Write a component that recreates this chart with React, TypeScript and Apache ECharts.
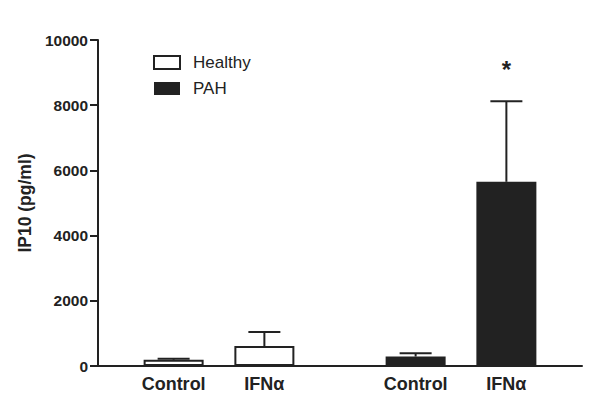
import React, { useEffect, useRef } from "react";
import * as echarts from "echarts";

const groups = ["Healthy", "PAH"];
const conditions = ["Control", "IFNα", "Control", "IFNα"];
const barGroup = [0, 0, 1, 1];
const means = [190, 610, 290, 5650];
const errors = [30, 430, 100, 2470];
const significance = ["", "", "", "*"];
const yTicks = [0, 2000, 4000, 6000, 8000, 10000];

const SLOT_COUNT = 16;
const barSlots = [2, 5, 10, 13];
const FONT = "'Liberation Sans', Arial, Helvetica, sans-serif";

export default function App() {
  const ref = useRef<HTMLDivElement>(null);
  useEffect(() => {
    if (!ref.current) return;
    const chart = echarts.init(ref.current, null, { renderer: "svg" });
    const catData: string[] = [];
    for (let i = 0; i < SLOT_COUNT; i++) {
      const k = barSlots.indexOf(i);
      catData.push(k >= 0 ? conditions[k] : "");
    }
    const seriesData = groups.map((_, g) => {
      const arr: any[] = new Array(SLOT_COUNT).fill("-");
      barSlots.forEach((s, k) => {
        if (barGroup[k] === g) arr[s] = means[k];
      });
      return arr;
    });
    const errData = barSlots.map((s, k) => [s, means[k], means[k] + errors[k], k]);

    const option: any = {
      animation: false,
      backgroundColor: "#fff",
      grid: { left: 98, right: 19, top: 40, bottom: 35, containLabel: false },
      legend: {
        orient: "vertical",
        left: 153,
        top: 54,
        padding: 0,
        itemWidth: 26,
        itemHeight: 13,
        itemGap: 9,
        icon: "rect",
        textStyle: { fontFamily: FONT, fontSize: 17, color: "#222", padding: [0, 0, 0, 8] },
        data: groups,
      },
      xAxis: {
        type: "category",
        data: catData,
        axisLine: { lineStyle: { color: "#222", width: 2 } },
        axisTick: {
          alignWithLabel: true,
          length: 6,
          lineStyle: { color: "#222", width: 2 },
          interval: (i: number) => barSlots.indexOf(i) >= 0,
        },
        axisLabel: {
          interval: 0,
          fontFamily: FONT,
          fontSize: 18,
          fontWeight: "bold",
          color: "#222",
          margin: 9,
        },
      },
      yAxis: {
        type: "value",
        min: 0,
        max: 10000,
        interval: 2000,
        name: "IP10 (pg/ml)",
        nameLocation: "middle",
        nameGap: 63,
        nameTextStyle: { fontFamily: FONT, fontSize: 17.5, fontWeight: "bold", color: "#222" },
        axisLine: { show: true, lineStyle: { color: "#222", width: 2 } },
        axisTick: { show: true, length: 8, lineStyle: { color: "#222", width: 2 } },
        axisLabel: {
          fontFamily: FONT,
          fontSize: 15.5,
          fontWeight: "bold",
          color: "#222",
          margin: 10,
          formatter: (v: number) => (yTicks.indexOf(v) >= 0 ? String(v) : ""),
        },
        splitLine: { show: false },
      },
      series: [
        {
          name: groups[0],
          type: "bar",
          data: seriesData[0],
          barWidth: 60,
          barGap: "-100%",
          itemStyle: { color: "#fff", borderColor: "#222", borderWidth: 2 },
          z: 2,
        },
        {
          name: groups[1],
          type: "bar",
          data: seriesData[1],
          barWidth: 60,
          barGap: "-100%",
          itemStyle: { color: "#222", borderColor: "#222", borderWidth: 0 },
          z: 2,
        },
        {
          type: "custom",
          data: errData,
          z: 3,
          renderItem: (params: any, api: any) => {
            const x = api.value(0);
            const lo = api.coord([x, api.value(1)]);
            const hi = api.coord([x, api.value(2)]);
            const k = api.value(3);
            const half = 16;
            const children: any[] = [
              { type: "line", shape: { x1: lo[0], y1: lo[1], x2: hi[0], y2: hi[1] }, style: { stroke: "#222", lineWidth: 2 } },
              { type: "line", shape: { x1: hi[0] - half, y1: hi[1], x2: hi[0] + half, y2: hi[1] }, style: { stroke: "#222", lineWidth: 2 } },
            ];
            if (significance[k]) {
              children.push({
                type: "text",
                style: {
                  x: hi[0],
                  y: hi[1] - 32,
                  text: significance[k],
                  fontFamily: FONT,
                  fontSize: 24,
                  fontWeight: "bold",
                  fill: "#222",
                  align: "center",
                  verticalAlign: "middle",
                },
              });
            }
            return { type: "group", children };
          },
        },
      ],
    };
    chart.setOption(option);
    return () => chart.dispose();
  }, []);
  return <div ref={ref} style={{ width: 601, height: 401, position: "absolute", left: 0, top: 0 }} />;
}
